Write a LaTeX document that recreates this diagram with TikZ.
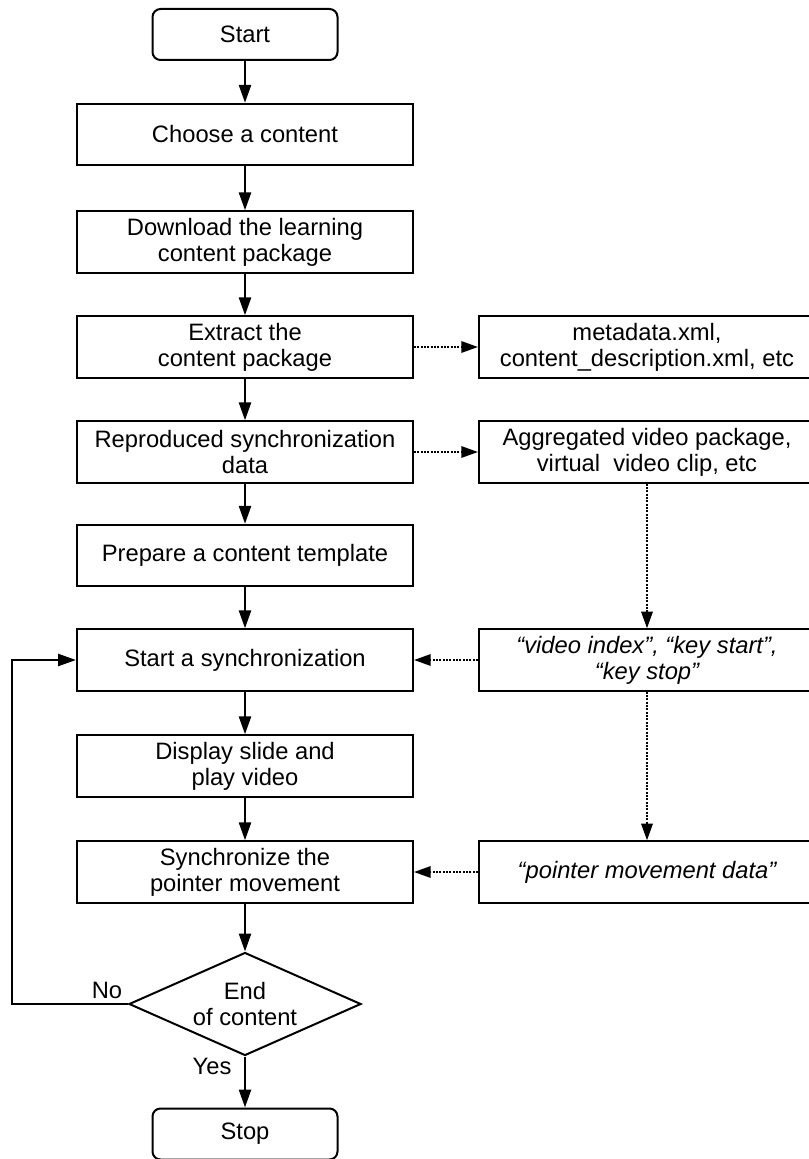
\documentclass[tikz,border=0pt]{standalone}
\usepackage{fontspec}
\setmainfont{Liberation Sans}
\usepackage{tikz}
\usetikzlibrary{arrows.meta,shapes.geometric}

\begin{document}
\begin{tikzpicture}[x=0.75pt,y=-0.75pt,line width=1.5pt,
  font=\fontsize{17.8pt}{19.5pt}\selectfont,
  box/.style={draw, minimum width=252pt, minimum height=46pt, align=center, inner sep=2pt},
  term/.style={draw, rounded corners=6pt, minimum width=138.75pt, minimum height=38.25pt},
  cond/.style={draw, diamond, aspect=2.25, inner sep=0pt, minimum width=174pt, minimum height=77.25pt, align=center},
  arr/.style={line width=1.9pt, -{Triangle[length=13.5pt,width=9pt]}},
  darr/.style={line width=1.6pt, dash pattern=on 1.5pt off 1pt, -{Triangle[length=12.5pt,width=8.5pt]}}]

\useasboundingbox (0,0) rectangle (809,1159);

\node[term] (v0) at (245,34.5) {Start};
\node[box] (v1) at (245,134.5) {Choose a content};
\node[box] (v2) at (245,242) {Download the learning\\content package};
\node[box] (v3) at (245,347) {Extract the\\content package};
\node[box] (v4) at (245,452) {Reproduced synchronization\\data};
\node[box] (v5) at (245,555.5) {Prepare a content template};
\node[box] (v6) at (245,660) {Start a synchronization};
\node[box] (v7) at (245,766) {Display slide and\\play video};
\node[box] (v8) at (245,872) {Synchronize the\\pointer movement};
\node[cond] (v9) at (245,1004) {End\\of content};
\node[term] (v10) at (245,1134) {Stop};

\node[box] (w1) at (647,347) {metadata.xml,\\content\_description.xml, etc};
\node[box] (w2) at (647,452) {Aggregated video package,\\virtual\ \ video clip, etc};
\node[box, font=\fontsize{17.8pt}{19.5pt}\selectfont\itshape] (w3) at (647,660) {“video index”, “key start”,\\“key stop”};
\node[box, font=\fontsize{17.8pt}{19.5pt}\selectfont\itshape] (w4) at (647,872) {“pointer movement data”};

\coordinate (c1) at (12,1004);

\draw[arr] (v0) edge (v1);
\draw[arr] (v1) edge (v2);
\draw[arr] (v2) edge (v3);
\draw[arr] (v3) edge (v4);
\draw[arr] (v4) edge (v5);
\draw[arr] (v5) edge (v6);
\draw[arr] (v6) edge (v7);
\draw[arr] (v7) edge (v8);
\draw[arr] (v8) edge (v9);
\draw[arr] (v9) edge (v10);
\draw[arr] (v9.west) -- (c1) |- (v6.west);

\draw[darr] (v3) edge (w1);
\draw[darr] (v4) edge (w2);
\draw[darr] (w2) edge (w3);
\draw[darr] (w3) edge (v6);
\draw[darr] (w3) edge (w4);
\draw[darr] (w4) edge (v8);

\node (no) at (107,990) {No};
\node (yes) at (212,1066) {Yes};
\end{tikzpicture}
\end{document}
